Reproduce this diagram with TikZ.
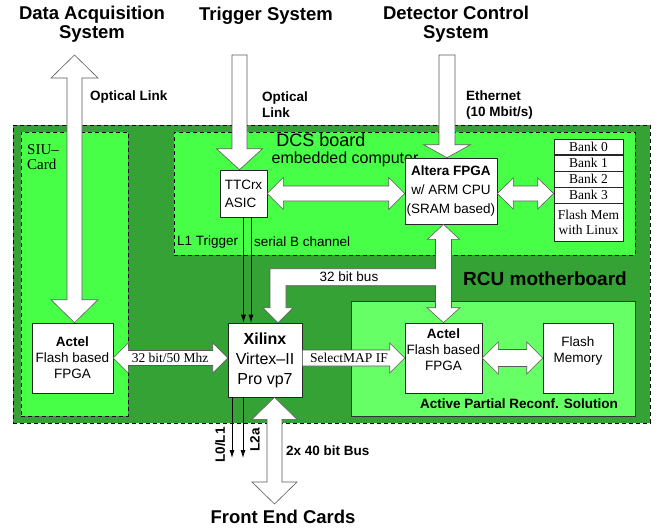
\documentclass[tikz,border=0pt]{standalone}
\usepackage{fontspec}
\setmainfont{Liberation Sans}
\newfontfamily\timesfont{Liberation Serif}
\usepackage{xcolor}
\definecolor{BoardGreen}{RGB}{52,162,52}
\definecolor{DcsGreen}{RGB}{70,255,70}
\definecolor{AprGreen}{RGB}{102,255,102}
\definecolor{EdgeGray}{RGB}{90,90,90}
\usetikzlibrary{positioning, arrows.meta, calc}

\newcommand{\titlefont}{\fontsize{18.5}{18.5}\selectfont\bfseries}
\newcommand{\boxfont}{\fontsize{13.5}{16}\selectfont}
\newcommand{\xilfont}{\fontsize{16}{20}\selectfont}
\newcommand{\serfont}{\fontsize{13.5}{15}\selectfont\timesfont}

% fat two-headed arrow, left to right: #1 left, #2 right, #3 shaft half, #4 head half, #5 head length
\newcommand{\hfatboth}[5]{%
  \draw[fat] let \p1=(#1), \p2=(#2) in
    (\x1,\y1) -- (\x1+#5,\y1+#4) -- (\x1+#5,\y1+#3) -- (\x2-#5,\y1+#3)
    -- (\x2-#5,\y1+#4) -- (\x2,\y1) -- (\x2-#5,\y1-#4) -- (\x2-#5,\y1-#3)
    -- (\x1+#5,\y1-#3) -- (\x1+#5,\y1-#4) -- cycle;}
% fat one-headed arrow pointing right
\newcommand{\hfatright}[5]{%
  \draw[fat] let \p1=(#1), \p2=(#2) in
    (\x1,\y1+#3) -- (\x2-#5,\y1+#3) -- (\x2-#5,\y1+#4) -- (\x2,\y1)
    -- (\x2-#5,\y1-#4) -- (\x2-#5,\y1-#3) -- (\x1,\y1-#3) -- cycle;}
% fat two-headed arrow, top to bottom
\newcommand{\vfatboth}[5]{%
  \draw[fat] let \p1=(#1), \p2=(#2) in
    (\x1,\y1) -- (\x1+#4,\y1-#5) -- (\x1+#3,\y1-#5) -- (\x1+#3,\y2+#5)
    -- (\x1+#4,\y2+#5) -- (\x1,\y2) -- (\x1-#4,\y2+#5) -- (\x1-#3,\y2+#5)
    -- (\x1-#3,\y1-#5) -- (\x1-#4,\y1-#5) -- cycle;}
% fat one-headed arrow pointing down
\newcommand{\vfatdown}[5]{%
  \draw[fat] let \p1=(#1), \p2=(#2) in
    (\x1-#3,\y1) -- (\x1+#3,\y1) -- (\x1+#3,\y2+#5) -- (\x1+#4,\y2+#5)
    -- (\x1,\y2) -- (\x1-#4,\y2+#5) -- (\x1-#3,\y2+#5) -- cycle;}

\begin{document}
\begin{tikzpicture}[
    x=1pt, y=-1pt,
    board/.style={draw, dash pattern=on 4pt off 3pt, line width=0.7pt, inner sep=0pt, anchor=north west},
    box/.style={draw=black!85, fill=white, line width=0.6pt, align=center, inner sep=0pt, font=\boxfont},
    bank/.style={draw=black!85, fill=white, line width=0.6pt, align=center, inner sep=0pt,
                 minimum width=69pt, minimum height=15.5pt, font=\serfont},
    fat/.style={draw=EdgeGray, fill=white, line width=0.6pt},
    thinarr/.style={-{Latex[length=8pt,width=5pt]}, line width=0.8pt},
    title/.style={font=\titlefont, align=center, inner sep=0pt},
    lbl/.style={font=\boxfont, align=left, inner sep=0pt},
    blbl/.style={font=\boxfont\bfseries, align=left, inner sep=0pt},
    sertxt/.style={font=\serfont, inner sep=0pt},
]
\useasboundingbox (0,0) rectangle (662,530);

% boards
\node[board, fill=BoardGreen, minimum width=637pt, minimum height=298pt] (rcu) at (13,125) {};
\node[board, fill=DcsGreen, minimum width=107pt, minimum height=284pt] (siu) at (21,132) {};
\node[board, fill=DcsGreen, minimum width=461pt, minimum height=123pt] (dcs) at (174,132) {};
\node[board, solid, draw=black!80, fill=AprGreen, minimum width=284pt, minimum height=115pt] (apr) at (351,301) {};

% board texts
\node[font=\timesfont\fontsize{15}{15}\selectfont, align=left, inner sep=0pt, anchor=north west] (siutxt) at (27,144) {SIU–\\Card};
\node[font=\fontsize{18}{20}\selectfont, inner sep=0pt] (dcstxt) at (321,140) {DCS board};
\node[font=\fontsize{16}{18}\selectfont, inner sep=0pt] (embtxt) at (345,159) {embedded computer};
\node[lbl, anchor=west] (l1trg) at (177,242) {L1 Trigger};
\node[lbl, anchor=west] (serb) at (254,242) {serial B channel};
\node[font=\fontsize{19}{20}\selectfont\bfseries, inner sep=0pt] (rcutxt) at (545,279) {RCU motherboard};
\node[blbl] (aprtxt) at (519,404) {Active Partial Reconf. Solution};

% outside texts
\node[title] (daqt) at (92,24) {Data Acquisition\\System};
\node[title] (trgt) at (266,16) {Trigger System};
\node[title] (dcst) at (456,24) {Detector Control\\System};
\node[title] (fect) at (283,517) {Front End Cards};
\node[blbl, anchor=west] (optl1) at (90,97) {Optical Link};
\node[blbl, anchor=west] (optl2) at (262,105) {Optical\\Link};
\node[blbl, anchor=west] (ethl) at (466,105) {Ethernet\\(10 Mbit/s)};
\node[blbl, anchor=west] (febus) at (286,451) {2x 40 bit Bus};

% chips
\node[box, align=left, minimum width=47pt, minimum height=47pt] (ttc) at (243.5,193.5) {TTCrx\\[2pt]ASIC};
\node[box, minimum width=92pt, minimum height=66pt] (alt) at (451,191) {\textbf{Altera FPGA}\\[3pt]w/ ARM CPU\\[3pt](SRAM based)};
\node[bank] (bank0) at (588.5,147) {Bank 0};
\node[bank, below=0pt of bank0] (bank1) {Bank 1};
\node[bank, below=0pt of bank1] (bank2) {Bank 2};
\node[bank, below=0pt of bank2] (bank3) {Bank 3};
\node[bank, below=0pt of bank3, minimum height=38pt] (flashlx) {Flash Mem\\with Linux};
\node[box, minimum width=81pt, minimum height=70pt] (actl) at (72.5,358) {\textbf{Actel}\\Flash based\\FPGA};
\node[box, font=\xilfont, minimum width=74pt, minimum height=74pt] (xil) at (265,360) {\textbf{Xilinx}\\Virtex–II\\Pro vp7};
\node[box, minimum width=77pt, minimum height=70pt] (actr) at (443.5,358) {\textbf{Actel}\\Flash based\\FPGA\\\mbox{}};
\node[box, minimum width=70pt, minimum height=70pt] (flash) at (578,358) {Flash\\Memory\\\mbox{}};

% free ends
\coordinate (daqtop) at (74.5,55);
\coordinate (trgtop) at (239.5,55);
\coordinate (ethtop) at (447,55);
\coordinate (fectop) at ($(xil.south)+(9.5,0)$);
\coordinate (fecend) at (274.5,504);
\coordinate (l0end) at (232,458);
\coordinate (l2end) at (243,458);

% fat links
\vfatboth{daqtop}{daqtop |- actl.north}{7.5pt}{23.5pt}{23pt}
\vfatdown{trgtop}{trgtop |- ttc.north}{7.5pt}{23pt}{21pt}
\vfatdown{ethtop}{ethtop |- alt.north}{8pt}{23.5pt}{13pt}
\vfatboth{fectop}{fecend}{7.5pt}{22.5pt}{22pt}
\hfatboth{ttc.east}{alt.west}{7.5pt}{16pt}{16pt}
\hfatboth{$(alt.east)+(0,2.5)$}{bank3.west}{7.5pt}{15.5pt}{16pt}
\hfatboth{actl.east}{xil.west}{7.5pt}{15pt}{15pt}
\hfatright{$(xil.east)+(0,-2)$}{actr.west}{8pt}{15pt}{15pt}
\hfatboth{actr.east}{flash.west}{8.5pt}{16pt}{16pt}

% 32 bit bus
\draw[fat] let \p1=(actr.north), \p2=(alt.south), \p3=(xil.north) in
    (\x1,\y2) -- (\x1+16pt,\y2-15pt) -- (\x1+8pt,\y2-15pt) -- (\x1+8pt,\y1+15pt)
    -- (\x1+16.5pt,\y1+15pt) -- (\x1,\y1) -- (\x1-16.5pt,\y1+15pt) -- (\x1-8pt,\y1+15pt)
    -- (\x1-8pt,\y1+37pt) -- (\x3+21pt,\y1+37pt) -- (\x3+21pt,\y3+15pt) -- (\x3+28pt,\y3+15pt)
    -- (\x3+13pt,\y3) -- (\x3-2pt,\y3+15pt) -- (\x3+5pt,\y3+15pt) -- (\x3+5pt,\y1+54pt)
    -- (\x1-8pt,\y1+54pt) -- (\x1-8pt,\y2-15pt) -- (\x1-16pt,\y2-15pt) -- cycle;

% texts on links
\node[lbl] (bustxt) at (349,277) {32 bit bus};
\node[sertxt] (pcitxt) at (170,358) {32 bit/50 Mhz};
\node[sertxt] (smaptxt) at (349,358) {SelectMAP IF};

% trigger lines
\draw[thinarr] (ttc.south) -- (ttc.south |- xil.north);
\draw[thinarr] ($(ttc.south)+(7.5,0)$) -- ($(ttc.south |- xil.north)+(7.5,0)$);
\draw[thinarr] (l0end |- xil.south) -- (l0end);
\draw[thinarr] (l2end |- xil.south) -- (l2end);
\node[blbl, rotate=90] (l0lbl) at (220,445) {L0/L1};
\node[blbl, rotate=90] (l2lbl) at (255,440) {L2a};

\end{tikzpicture}
\end{document}
